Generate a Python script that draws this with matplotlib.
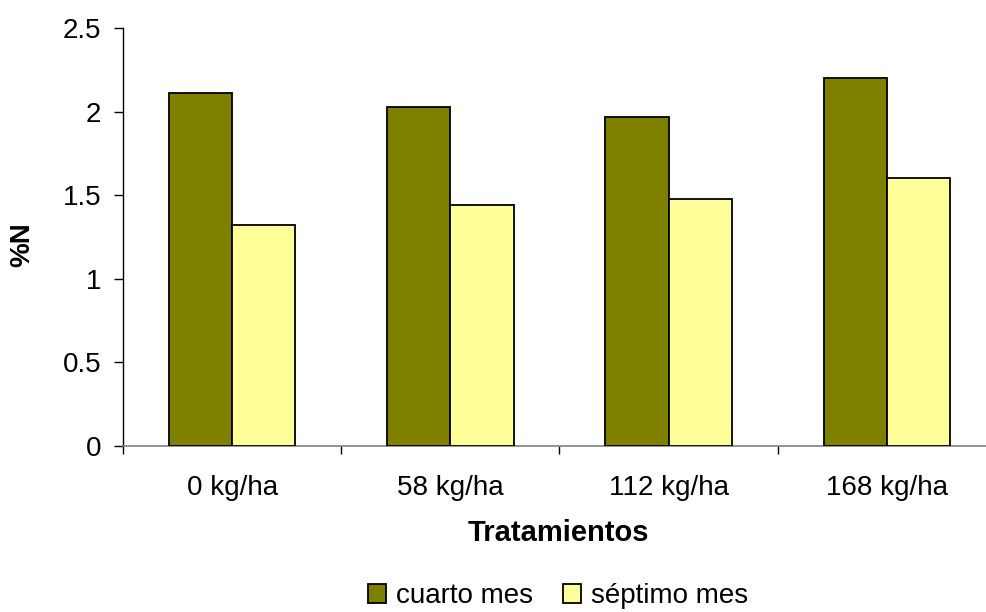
import matplotlib
matplotlib.use("Agg")
import matplotlib.pyplot as plt
from matplotlib.patches import Patch
import numpy as np

plt.rcParams['font.family'] = ['Liberation Sans', 'DejaVu Sans']

categories = ["0 kg/ha", "58 kg/ha", "112 kg/ha", "168 kg/ha"]
cuarto_mes = [2.11, 2.03, 1.97, 2.20]
septimo_mes = [1.32, 1.44, 1.48, 1.60]
series_names = ["cuarto mes", "séptimo mes"]
colors = ["#808000", "#FFFF99"]

W, H = 987, 612
fig = plt.figure(figsize=(W / 100, H / 100), dpi=100)
ax = fig.add_axes([123 / W, 1 - 446 / H, 873 / W, (446 - 28) / H])

x = np.arange(len(categories))
bw = 0.29
ax.bar(x + 0.5 - bw / 2, cuarto_mes, bw, color=colors[0], edgecolor="black", linewidth=1.3, zorder=3)
ax.bar(x + 0.5 + bw / 2, septimo_mes, bw, color=colors[1], edgecolor="black", linewidth=1.3, zorder=3)

ax.set_xlim(0, len(categories))
ax.set_ylim(0, 2.5)
ax.set_yticks([0, 0.5, 1, 1.5, 2, 2.5])
ax.set_yticklabels(["0", "0.5", "1", "1.5", "2", "2.5"])

# category boundaries carry the tick marks, centres carry the labels
ax.set_xticks(np.arange(len(categories) + 1))
ax.set_xticklabels([])
ax.set_xticks(x + 0.5, minor=True)
ax.set_xticklabels(categories, minor=True)
ax.tick_params(axis="x", which="major", direction="out", length=6, width=1, color="black")
ax.tick_params(axis="x", which="minor", length=0, pad=21, labelsize=20)
ax.tick_params(axis="y", direction="out", length=6.5, width=1, color="black", pad=9, labelsize=20)

for s in ["top", "right"]:
    ax.spines[s].set_visible(False)
ax.spines["left"].set_color("black")
ax.spines["left"].set_linewidth(1)
ax.spines["bottom"].set_color("#808080")
ax.spines["bottom"].set_linewidth(1.2)

fig.text(558 / W, 1 - 533 / H, "Tratamientos", ha="center", va="center",
         fontsize=21, fontweight="bold")
fig.text(22 / W, 1 - 245 / H, "%N", ha="center", va="center", rotation=90,
         fontsize=20, fontweight="bold")

handles = [Patch(facecolor=c, edgecolor="black", linewidth=1.3) for c in colors]
fig.legend(handles, series_names, loc="center", bbox_to_anchor=(558 / W, 1 - 596 / H),
           ncol=2, frameon=False, fontsize=20, handlelength=0.65, handleheight=0.65,
           handletextpad=0.35, columnspacing=1.1, borderpad=0)

fig.savefig("out.png", dpi=100)
